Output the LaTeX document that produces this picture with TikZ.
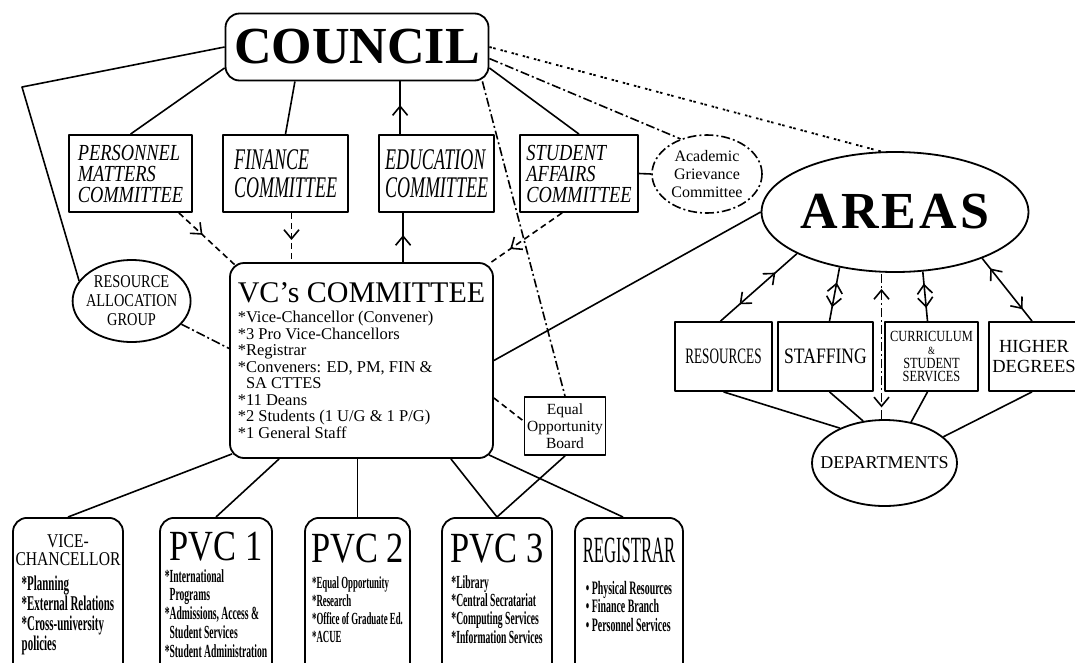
\documentclass[tikz,border=0pt]{standalone}
\usepackage{fontspec}
\setmainfont{Liberation Serif}
\newfontfamily\narrowfont[FakeStretch=0.8]{Liberation Serif}
\newfontfamily\slimfont[FakeStretch=0.6]{Liberation Serif}
\newfontfamily\condfont[FakeStretch=0.52]{Liberation Serif}
\newfontfamily\thinfont[FakeStretch=0.45]{Liberation Serif}
\usepackage{tikz}
\usetikzlibrary{shapes.geometric, arrows.meta, decorations.markings, calc}
\newcommand{\fsz}[2]{\fontsize{#1}{#2}\selectfont}
\tikzset{
  barb/.tip={Straight Barb[length=9pt, width=15pt, line width=1.6pt]},
  box/.style={draw, line width=1.8pt, inner sep=2pt},
  roundbox/.style={box, rounded corners=14pt},
  oval/.style={draw, ellipse, line width=1.8pt, inner sep=0pt},
  unitbox/.style={roundbox, anchor=north, text depth=200pt, align=center},
  link/.style={line width=1.6pt},
  dashlink/.style={link, dash pattern=on 6pt off 4pt},
  dotlink/.style={link, dash pattern=on 9pt off 3pt on 2pt off 3pt},
  pairlink/.style={link, line width=1.8pt, dash pattern=on 2.5pt off 1.5pt on 2.5pt off 5pt},
  headat/.style={postaction={decorate, decoration={markings, mark=at position #1 with {\arrow{barb}}}}},
  backat/.style={postaction={decorate, decoration={markings, mark=at position #1 with {\arrowreversed{barb}}}}},
  twoway/.style 2 args={backat=#1, headat=#2}
}
\begin{document}
\begin{tikzpicture}[x=1pt, y=-1pt, line join=round]
  \useasboundingbox (0,0) rectangle (1075,662);
  \clip (0,0) rectangle (1075,662);

  \node[roundbox, minimum width=263pt, minimum height=67pt, font=\bfseries\fsz{52}{52}] (council) at (357,47) {COUNCIL};

  \node[box, minimum width=123pt, minimum height=77pt, align=left, font=\itshape\narrowfont\fsz{23}{21}] (personnel) at (130.5,173.5) {PERSONNEL\\MATTERS\\COMMITTEE};
  \node[box, minimum width=125pt, minimum height=77pt, align=left, font=\itshape\slimfont\fsz{30}{28}] (finance) at (285.5,173.5) {FINANCE\\COMMITTEE};
  \node[box, minimum width=115pt, minimum height=77pt, align=left, font=\itshape\slimfont\fsz{30}{28}] (education) at (436.5,173.5) {EDUCATION\\COMMITTEE};
  \node[box, minimum width=118pt, minimum height=77pt, align=left, font=\itshape\narrowfont\fsz{23}{21}] (student) at (579,173.5) {STUDENT\\AFFAIRS\\COMMITTEE};
  \node[oval, dotlink, minimum width=110pt, minimum height=78pt, align=center, font=\fsz{16}{18}] (grievance) at (707,174) {Academic\\Grievance\\Committee};

  \node[oval, minimum width=254pt, minimum height=120pt, font=\bfseries\fsz{52}{52}\addfontfeatures{LetterSpace=6}] (areas) at (895,212) {AREAS};

  \node[oval, minimum width=118pt, minimum height=82pt, inner xsep=-4pt, align=center, font=\narrowfont\fsz{18}{19}] (rag) at (131.6,301) {RESOURCE\\ALLOCATION\\GROUP};

  \node[roundbox, minimum width=263pt, minimum height=195pt, align=left, font=\fsz{16.5}{16.5}] (vc) at (361.5,360.5) {{\fsz{30}{30}VC's COMMITTEE}\\[4pt]
    *Vice-Chancellor (Convener)\\
    *3 Pro Vice-Chancellors\\
    *Registrar\\
    *Conveners: ED, PM, FIN \&\\
    \phantom{*}SA CTTES\\
    *11 Deans\\
    *2 Students (1 U/G \& 1 P/G)\\
    *1 General Staff};

  \node[box, minimum width=81pt, minimum height=58pt, inner sep=0pt, align=center, font=\fsz{15.5}{17}] (eob) at (565,426) {Equal\\Opportunity\\Board};

  \node[box, minimum width=97pt, minimum height=69pt, font=\slimfont\fsz{22}{22}] (resources) at (723.5,356.5) {RESOURCES};
  \node[box, minimum width=95pt, minimum height=69pt, font=\narrowfont\fsz{22}{22}] (staffing) at (825.5,356.5) {STAFFING};
  \node[box, minimum width=93pt, minimum height=69pt, align=center, font=\narrowfont\fsz{15.5}{13.5}] (curriculum) at (931.5,356.5) {CURRICULUM\\{\fsz{11}{11}\&}\\STUDENT\\SERVICES};
  \node[box, minimum width=90pt, minimum height=69pt, align=center, font=\fsz{18.5}{20}] (higher) at (1034,356.5) {HIGHER\\DEGREES};
  \node[oval, minimum width=145pt, minimum height=86pt, inner xsep=-25pt, font=\fsz{18}{18}] (departments) at (884.5,463) {DEPARTMENTS};

  \node[unitbox, minimum width=110pt, inner ysep=16.5pt, font=\bfseries\condfont\fsz{21}{18}] (vice) at (68,517) {{\mdseries\narrowfont\fsz{19.5}{18}VICE-}\\{\mdseries\narrowfont\fsz{19.5}{18}CHANCELLOR}\\[7pt]\begin{tabular}[t]{@{}l@{}}{*}Planning\\{*}External Relations\\{*}Cross-university\\policies\end{tabular}};
  \node[unitbox, minimum width=112pt, inner ysep=14pt, font=\bfseries\condfont\fsz{18.5}{18.75}] (pvc1) at (216,517) {{\mdseries\narrowfont\fsz{43}{43}PVC 1}\\[3pt]\begin{tabular}[t]{@{}l@{}}{*}International\\\phantom{*}Programs\\{*}Admissions, Access \&\\\phantom{*}Student Services\\{*}Student Administration\end{tabular}};
  \node[unitbox, minimum width=105pt, inner ysep=16pt, font=\bfseries\condfont\fsz{17}{18}] (pvc2) at (357.5,517) {{\mdseries\narrowfont\fsz{43}{43}PVC 2}\\[8pt]\begin{tabular}[t]{@{}l@{}}{*}Equal Opportunity\\{*}Research\\{*}Office of Graduate Ed.\\{*}ACUE\end{tabular}};
  \node[unitbox, minimum width=110pt, inner ysep=16pt, font=\bfseries\condfont\fsz{18.5}{18}] (pvc3) at (497,517) {{\mdseries\narrowfont\fsz{43}{43}PVC 3}\\[8pt]\begin{tabular}[t]{@{}l@{}}{*}Library\\{*}Central Secratariat\\{*}Computing Services\\{*}Information Services\end{tabular}};
  \node[unitbox, minimum width=108pt, inner ysep=20pt, font=\bfseries\condfont\fsz{19}{18}] (registrar) at (629,517) {{\mdseries\thinfont\fsz{37}{37}REGISTRAR}\\[14pt]\begin{tabular}[t]{@{}l@{}}\textbullet{} Physical Resources\\\textbullet{} Finance Branch\\\textbullet{} Personnel Services\end{tabular}};

  \coordinate (corner) at (22,87);
  \draw[link] (council.west) -- (corner) -- (rag.159);
  \draw[link] (council.189) -- (personnel.north);
  \draw[link] (council.209) -- (finance.north);
  \coordinate (edtop) at ($(education.north west)+(22,0)$);
  \draw[link, headat=0.55] (edtop) -- (edtop |- council.south);
  \draw[dotlink] ($(council.south east)+(-7,0)$) -- (eob.north);
  \draw[link] (council.-9) -- (student.north);
  \draw[dotlink] (council.-5) -- (grievance.127);
  \draw[pairlink] (council.east) -- (areas.103);
  \draw[link] (student.east) -- (grievance.west);

  \draw[dashlink, headat=0.42] ($(personnel.south east)+(-14,0)$) -- ($(vc.north west)+(6,3)$);
  \coordinate (fnbot) at ($(finance.south)+(6,0)$);
  \draw[dashlink, headat=0.55] (fnbot) -- (fnbot |- vc.north);
  \coordinate (edbot) at ($(education.south west)+(25,0)$);
  \draw[link, headat=0.55] (edbot |- vc.north) -- (edbot);
  \draw[dashlink, headat=0.72] ($(student.south west)+(43,0)$) -- ($(vc.north east)+(-4,1)$);

  \draw[dotlink] (rag.-25) -- ($(vc.west)+(0,-12)$);
  \draw[link] (vc.east) -- (areas.west);
  \draw[dashlink] ($(vc.east)+(0,37.5)$) -- ($(eob.north west)+(0,25)$);

  \draw[link] ($(vc.south west)+(3,-5)$) -- (vice.north);
  \draw[link] ($(vc.south west)+(50,0)$) -- (pvc1.north);
  \draw[link] (pvc2.north) -- (pvc2.north |- vc.south);
  \draw[link] ($(vc.south east)+(-43,0)$) -- (pvc3.north);
  \draw[link] ($(vc.south east)+(-5,-4)$) -- ($(registrar.north)+(-6,0)$);
  \draw[link] (eob.south) -- (pvc3.north);

  \coordinate (dptop) at ($(departments.north)+(-3,0)$);
  \draw[link, twoway={0.25}{0.72}] ($(resources.north)+(-3,0)$) -- (areas.203);
  \draw[link, twoway={0.26}{0.72}] ($(staffing.north)+(4,0)$) -- (areas.225);
  \draw[dotlink, twoway={0.08}{0.89}] (dptop) -- (dptop |- areas.south);
  \draw[link, twoway={0.27}{0.76}] ($(curriculum.north)+(-4,0)$) -- (areas.295);
  \draw[link, twoway={0.19}{0.84}] ($(higher.north)+(-2,0)$) -- (areas.332);

  \draw[link] (resources.south) -- (departments.142);
  \draw[link] ($(staffing.south)+(4,0)$) -- (departments.117);
  \draw[link] ($(curriculum.south)+(-4,0)$) -- (departments.57);
  \draw[link] ($(higher.south)+(-2,0)$) -- (departments.24);

\end{tikzpicture}
\end{document}
